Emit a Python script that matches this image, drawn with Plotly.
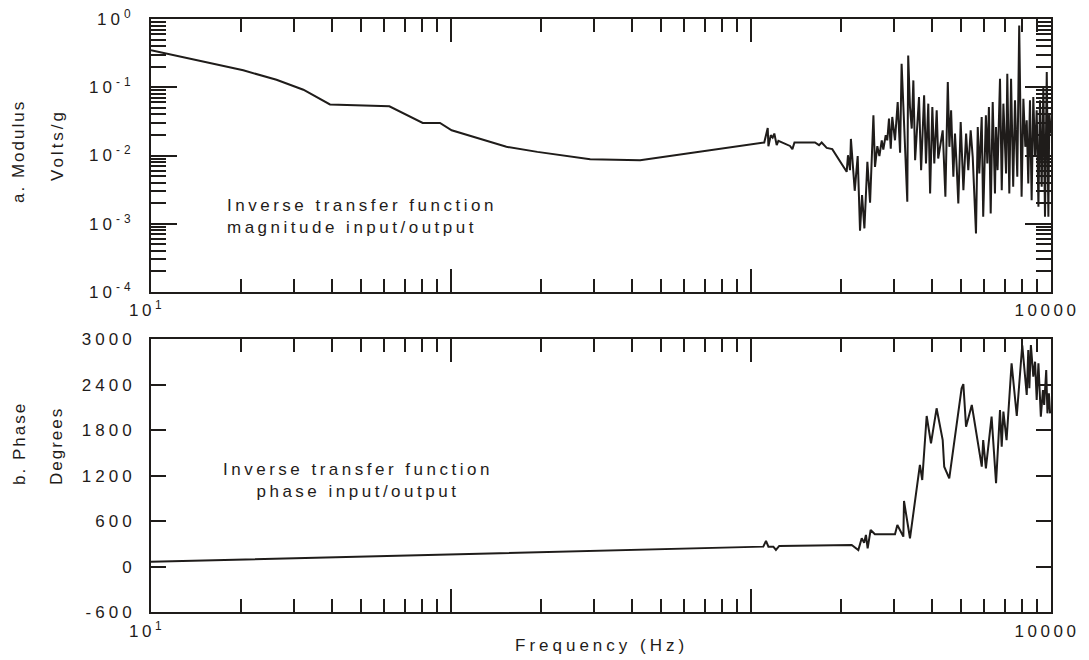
import plotly.graph_objects as go

# ---------------- data ----------------
mag_freq = [
    10, 14.6, 20.3, 26.2, 32.2, 39.5, 62.3, 80.5, 91.9, 100.5,
    118.7, 153, 194, 291, 427, 1107, 1137, 1143, 1164, 1181,
    1196, 1218, 1234, 1349, 1374, 1396, 1634, 1686, 1720, 1788,
    1866, 1982, 2084, 2105, 2138, 2153, 2182, 2217, 2268, 2309,
    2345, 2388, 2443, 2494, 2559, 2590, 2637, 2679, 2728, 2761,
    2812, 2846, 2884, 2923, 2957, 3020, 3083, 3140, 3177, 3236,
    3319, 3342, 3388, 3434, 3477, 3524, 3631, 3690, 3776, 3831,
    3899, 3954, 4022, 4083, 4159, 4207, 4355, 4446, 4529, 4585,
    4645, 4726, 4786, 4849, 4910, 5000, 5105, 5212, 5300, 5398,
    5483, 5623, 5700, 5768, 5875, 5943, 6067, 6134, 6209, 6295,
    6393, 6505, 6556, 6637, 6761, 6853, 6939, 7083, 7150, 7262,
    7360, 7481, 7585, 7720, 7834, 7980, 8090, 8210, 8300, 8400,
    8510, 8620, 8730, 8850, 8960, 9080, 9190, 9310, 9430, 9550,
    9680, 9800, 9870, 10000,
]
mag_val = [
    0.35, 0.24, 0.177, 0.129, 0.092, 0.056, 0.0526, 0.030, 0.030, 0.0234,
    0.0187, 0.0134, 0.0113, 0.0088, 0.0085, 0.0155, 0.0253, 0.0137, 0.0198, 0.0183,
    0.021, 0.0142, 0.0164, 0.0138, 0.0124, 0.0155, 0.0155, 0.0142, 0.0155, 0.0129,
    0.0124, 0.00806, 0.00577, 0.0101, 0.0061, 0.0175, 0.0068, 0.00304, 0.0098, 0.00079,
    0.00263, 0.000855, 0.00807, 0.00203, 0.0388, 0.0068, 0.0137, 0.0098, 0.0167, 0.0122,
    0.0198, 0.0167, 0.0347, 0.0126, 0.0367, 0.0167, 0.0608, 0.0110, 0.221, 0.0248,
    0.0021, 0.292, 0.0514, 0.0248, 0.126, 0.00853, 0.072, 0.0061, 0.0762, 0.00763,
    0.0575, 0.00278, 0.0514, 0.00763, 0.0459, 0.00904, 0.0234, 0.00248, 0.119, 0.0134,
    0.0459, 0.00488, 0.021, 0.00683, 0.00199, 0.031, 0.00311, 0.021, 0.0061, 0.0234,
    0.00955, 0.000723, 0.0262, 0.00545, 0.0367, 0.00127, 0.0388, 0.00763, 0.0514, 0.00142,
    0.0608, 0.00278, 0.0262, 0.0061, 0.1335, 0.00311, 0.0575, 0.00545, 0.158, 0.00278,
    0.1335, 0.00348, 0.0643, 0.00488, 0.80, 0.00248, 0.068, 0.0134, 0.0328, 0.00389,
    0.0643, 0.00222, 0.072, 0.00955, 0.0459, 0.00177, 0.0643, 0.00348, 0.1008, 0.00127,
    0.167, 0.00127, 0.041, 0.021,
]

phase_freq = [
    10, 1099, 1122, 1143, 1187, 1211, 1242, 2166, 2279, 2339,
    2383, 2416, 2448, 2505, 2588, 3020, 3075, 3220, 3236, 3388,
    3656, 3722, 3851, 3981, 4156, 4355, 4406, 4580, 5035, 5103,
    5210, 5445, 5878, 5943, 6067, 6338, 6559, 6761, 6850, 6939,
    7110, 7390, 7690, 8020, 8300, 8400, 8470, 8570, 8730, 8850,
    8960, 9080, 9250, 9400, 9490, 9640, 9730, 9840, 9930,
]
phase_val = [
    65, 265, 340, 265, 265, 221, 274, 287, 221, 375,
    317, 419, 243, 485, 428, 428, 550, 397, 866, 375,
    1341, 1143, 1986, 1626, 2087, 1668, 1318, 1165, 2351, 2407,
    1845, 2131, 1318, 1668, 1297, 1977, 1100, 2065, 1581, 2043,
    1668, 2680, 1986, 2921, 2262, 2855, 2351, 2921, 2504, 2701,
    2197, 2680, 1977, 2328, 2131, 2592, 2021, 2285, 2021,
]
assert len(mag_freq) == len(mag_val)
assert len(phase_freq) == len(phase_val)

x_tick_vals = [10, 100, 1000, 10000]
x_tick_text = ["10<sup>1</sup>", "", "", "10000"]
x_minor_vals = [d * m for m in (10, 100, 1000) for d in range(2, 10)]

mag_tick_vals = [1e-4, 1e-3, 1e-2, 1e-1, 1]
mag_tick_text = ["10<sup>-4</sup>", "10<sup>-3</sup>", "10<sup>-2</sup>",
                 "10<sup>-1</sup>", "10<sup>0</sup>"]
mag_minor_vals = [d * 10.0 ** e for e in range(-4, 0) for d in range(2, 10)]

phase_tick_vals = [-600, 0, 600, 1200, 1800, 2400, 3000]
phase_tick_text = ["-600", "0", "600", "1200", "1800", "2400", "3000"]

# ---------------- styling ----------------
INK = "#1f1c1a"
FONT = "Liberation Sans, Arial, Helvetica, sans-serif"
# the page body has an 8px margin, so the figure is a bit smaller than the window
OFF = 8
W, H = 1081, 652


def px(xpage):
    return (xpage - OFF) / W


def py(ypage):
    return 1 - (ypage - OFF) / H


def ls(text, sp):
    if not text:
        return text
    return f'<span style="letter-spacing:{sp}px">{text}</span>'


XDOM = [px(151), px(1051)]
TOP_DOM = [py(292), py(19)]
BOT_DOM = [py(612.3), py(339)]

tickfont = dict(family=FONT, size=17, color=INK)

fig = go.Figure()
fig.add_trace(go.Scatter(x=mag_freq, y=mag_val, mode="lines",
                         line=dict(color=INK, width=2), xaxis="x", yaxis="y",
                         hoverinfo="x+y"))
fig.add_trace(go.Scatter(x=phase_freq, y=phase_val, mode="lines",
                         line=dict(color=INK, width=2), xaxis="x2", yaxis="y2",
                         hoverinfo="x+y"))


def xaxis(anchor):
    return dict(
        type="log", range=[1, 4], domain=XDOM, anchor=anchor,
        showline=True, linewidth=2, linecolor=INK, mirror="allticks",
        ticks="inside", ticklen=23, tickwidth=2, tickcolor=INK,
        tickvals=x_tick_vals, ticktext=[ls(t, 3.5) for t in x_tick_text],
        minor=dict(tickvals=x_minor_vals, ticks="inside", ticklen=13,
                   tickwidth=2, tickcolor=INK, showgrid=False),
        showgrid=False, zeroline=False, tickfont=tickfont,
        automargin=False, ticklabelstandoff=2, ticklabelshift=-4,
        ticklabeloverflow="allow",
    )


fig.update_layout(
    width=W, height=H, autosize=False,
    margin=dict(l=0, r=0, t=0, b=0, pad=0),
    paper_bgcolor="white", plot_bgcolor="white",
    showlegend=False,
    font=dict(family=FONT, color=INK, size=17),
    xaxis=xaxis("y"),
    xaxis2=xaxis("y2"),
    yaxis=dict(
        type="log", range=[-4, 0], domain=TOP_DOM, anchor="x",
        showline=True, linewidth=2, linecolor=INK, mirror="allticks",
        ticks="inside", ticklen=26, tickwidth=2, tickcolor=INK,
        tickvals=mag_tick_vals, ticktext=[ls(t, 4) for t in mag_tick_text],
        minor=dict(tickvals=mag_minor_vals, ticks="inside", ticklen=15,
                   tickwidth=2, tickcolor=INK, showgrid=False),
        showgrid=False, zeroline=False, tickfont=tickfont,
        automargin=False, ticklabelstandoff=11, ticklabeloverflow="allow",
    ),
    yaxis2=dict(
        range=[-600, 3000], domain=BOT_DOM, anchor="x2",
        showline=True, linewidth=2, linecolor=INK, mirror="allticks",
        ticks="inside", ticklen=15, tickwidth=2, tickcolor=INK,
        tickvals=phase_tick_vals, ticktext=[ls(t, 4) for t in phase_tick_text],
        showgrid=False, zeroline=False, tickfont=tickfont,
        automargin=False, ticklabelstandoff=10, ticklabeloverflow="allow",
    ),
)

ann_font = dict(family=FONT, size=17, color=INK)
annotations = [
    dict(text=ls("Inverse transfer function", 3.5) + "<br>" + ls("magnitude input/output", 3.5),
         x=px(225), y=py(216.5), xanchor="left", yanchor="middle", align="left"),
    dict(text=ls("Inverse transfer function", 3.5) + "<br>" + ls("phase input/output", 3.5),
         x=px(357.5), y=py(480), xanchor="center", yanchor="middle", align="center"),
    dict(text=ls("Frequency (Hz)", 4), x=px(601), y=py(645),
         xanchor="center", yanchor="middle"),
    dict(text=ls("a. Modulus", 2), x=px(18), y=py(152), textangle=-90,
         xanchor="center", yanchor="middle"),
    dict(text=ls("Volts/g", 3), x=px(57), y=py(145), textangle=-90,
         xanchor="center", yanchor="middle"),
    dict(text=ls("b. Phase", 2), x=px(19), y=py(444), textangle=-90,
         xanchor="center", yanchor="middle"),
    dict(text=ls("Degrees", 2), x=px(56), y=py(446), textangle=-90,
         xanchor="center", yanchor="middle"),
]
for a in annotations:
    a.update(xref="paper", yref="paper", showarrow=False, font=ann_font)
fig.update_layout(annotations=annotations)

fig.write_html("out.html")
